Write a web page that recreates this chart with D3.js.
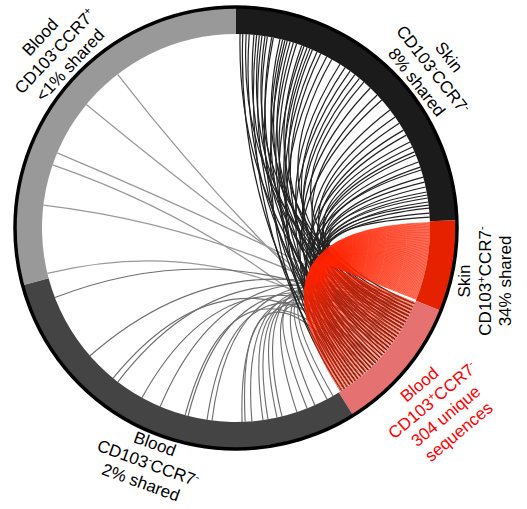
<!DOCTYPE html>
<html>
<head>
<meta charset="utf-8">
<script src="https://cdn.jsdelivr.net/npm/d3@7"></script>
<style>
  body { margin: 0; background: #fff; }
  svg { display: block; }
  text { font-family: "Liberation Sans", Arial, sans-serif; }
</style>
</head>
<body>
<svg id="chart" width="527" height="509"></svg>
<script>
// Populations around the circle, clockwise from 12 o'clock
const groups = ["skinNeg", "skinPos", "bloodPos", "bloodNeg", "bloodCCR7"];
// angular share of each population (degrees)
const groupSpanDeg = [88, 24, 36, 107, 105];
const groupLabels = [
  ["Skin", "CD103⁻CCR7⁻", "8% shared"],
  ["Skin", "CD103⁺CCR7⁻", "34% shared"],
  ["Blood", "CD103⁺CCR7⁻", "304 unique", "sequences"],
  ["Blood", "CD103⁻CCR7⁻", "2% shared"],
  ["Blood", "CD103⁻CCR7⁺", "<1% shared"]
];

// Shared sequences: [position in partner population (deg), position in Blood CD103+CCR7- (deg)]
const skinNegLinks = [
  [1.2,131],[2.0,144],[3.0,118],[3.9,137],[5.3,125],[6.1,146],[6.9,121],[7.7,139],[8.6,114],[9.3,133],
  [10.6,128],[11.1,142],[13.1,117],[13.9,135],[14.6,124],[15.3,147],[16.2,120],[17.2,138],[18.2,130],[19.8,115],
  [20.5,143],[21.5,126],[22.4,136],[23.2,119],[24.7,141],[25.9,129],[27.9,145],[29.6,116],[32.4,134],[34.2,123],
  [36.0,140],[37.8,127],[39.5,132],[41.2,113],[43.8,138],[46.7,122],[48.7,144],[52.5,130],[55.1,118],[57.3,136],
  [59.7,125],[61.4,142],[63.7,116],[65.3,134],[66.9,121],[67.9,139],[70.1,128],[71.7,146],[72.6,119],[74.8,133],
  [76.3,124],[77.8,141],[79.3,115],[80.2,137],[81.1,127],[82.3,143],[83.2,120],[84.1,135],[85.6,129],[86.8,117]
];
// sequences shared with Skin CD103+CCR7- (nested bundle)
const skinPosLinkCount = 104;
const bloodNegLinks = [
  [249,121],[228.8,116],[219.3,133],[217.5,118],[209,125],[203,114],[195.2,137],[194.3,120],[188.6,129],[187.1,115],
  [178.2,123],[177.3,140],[175.3,117],[172,131],[170.5,119],[167.8,126],[166.3,113],[161.7,122],[158.5,135],[156,116],
  [152,124],[150,119]
];
const bloodCCR7Links = [
  [256.5,128],[276.8,121],[289,134],[292.8,117],[309.5,125],[322.4,131]
];

// ---- drawing ----
const svg = d3.select("#chart");
const cx = 236, cy = 228, rIn = 194, rOut = 220;
const groupColor = {
  skinNeg: "#1b1b1b", skinPos: "#e62100", bloodPos: "#e67171",
  bloodNeg: "#444444", bloodCCR7: "#999999"
};
const rad = d3.scaleLinear().domain([0, 360]).range([0, 2 * Math.PI]);
const ends = d3.cumsum(groupSpanDeg);
const starts = ends.map((e, i) => e - groupSpanDeg[i]);

const g = svg.append("g").attr("transform", `translate(${cx},${cy})`);

// chords: quadratic curves bent through the centre
const pt = deg => [rIn * Math.sin(rad(deg)), -rIn * Math.cos(rad(deg))];
function chordPath(a, b) {
  const p = d3.path();
  const p1 = pt(a), p2 = pt(b);
  p.moveTo(p1[0], p1[1]);
  p.quadraticCurveTo(0, 0, p2[0], p2[1]);
  return p.toString();
}

const links = g.append("g").attr("fill", "none");
links.selectAll("path.ccr7").data(bloodCCR7Links).join("path")
  .attr("class", "ccr7").attr("d", d => chordPath(d[0], d[1]))
  .attr("stroke", "#999").attr("stroke-width", 1.3);
links.selectAll("path.bneg").data(bloodNegLinks).join("path")
  .attr("class", "bneg").attr("d", d => chordPath(d[0], d[1]))
  .attr("stroke", "#6e6e6e").attr("stroke-width", 1.15);
links.selectAll("path.sneg").data(skinNegLinks).join("path")
  .attr("class", "sneg").attr("d", d => chordPath(d[0], d[1]))
  .attr("stroke", "#222").attr("stroke-width", 1.2);

// nested bundle between the two CD103+ populations
const bp = groups.indexOf("bloodPos"), sp = groups.indexOf("skinPos");
const idx = d3.range(skinPosLinkCount);
const posSkin = d3.scaleLinear().domain([0, skinPosLinkCount - 1]).range([starts[sp] + 0.4, ends[sp] - 0.4]);
const posBlood = d3.scaleLinear().domain([0, skinPosLinkCount - 1]).range([ends[bp] - 0.6, starts[bp] + 0.6]);
links.selectAll("path.spos").data(idx).join("path")
  .attr("class", "spos").attr("d", i => chordPath(posSkin(i), posBlood(i)))
  .attr("stroke", "#ff2200").attr("stroke-width", 0.75).attr("stroke-opacity", 0.9);

// outer ring
const arc = d3.arc().innerRadius(rIn).outerRadius(rOut);
g.selectAll("path.seg").data(groups).join("path")
  .attr("class", "seg")
  .attr("d", (d, i) => arc({ startAngle: rad(starts[i]), endAngle: rad(ends[i]) }))
  .attr("fill", d => groupColor[d]);
g.append("circle").attr("r", 221).attr("fill", "none")
  .attr("stroke", "#000").attr("stroke-width", 3.5);

// labels
const labelPlace = {
  skinNeg:   { x: 433, y: 69.5, rot: 52,  color: "#000" },
  skinPos:   { x: 485, y: 281,  rot: -90, color: "#000" },
  bloodPos:  { x: 439, y: 408,  rot: -40, color: "#ff0000" },
  bloodNeg:  { x: 148, y: 463,  rot: 20,  color: "#000" },
  bloodCCR7: { x: 55,  y: 51,   rot: -47, color: "#000" }
};
const lineH = 20.5, fs = 17;
const sup = { "⁻": "-", "⁺": "+" };

groups.forEach((gname, gi) => {
  const pl = labelPlace[gname];
  const lines = groupLabels[gi];
  const lg = svg.append("g")
    .attr("transform", `translate(${pl.x},${pl.y}) rotate(${pl.rot})`)
    .attr("fill", pl.color).attr("font-size", fs);
  lines.forEach((ln, li) => {
    const t = lg.append("text")
      .attr("text-anchor", "middle")
      .attr("x", 0)
      .attr("y", (li - (lines.length - 1) / 2) * lineH)
      .attr("dy", "0.35em");
    // split into normal runs and superscript signs
    let buf = "", raised = false;
    const flush = () => { if (buf) { t.append("tspan").attr("dy", raised ? 6 : null).text(buf); raised = false; buf = ""; } };
    for (const ch of ln) {
      if (sup[ch]) {
        flush();
        t.append("tspan").attr("font-size", 11).attr("dy", -6).text(sup[ch]);
        raised = true;
      } else {
        buf += ch;
      }
    }
    flush();
  });
});
</script>
</body>
</html>
